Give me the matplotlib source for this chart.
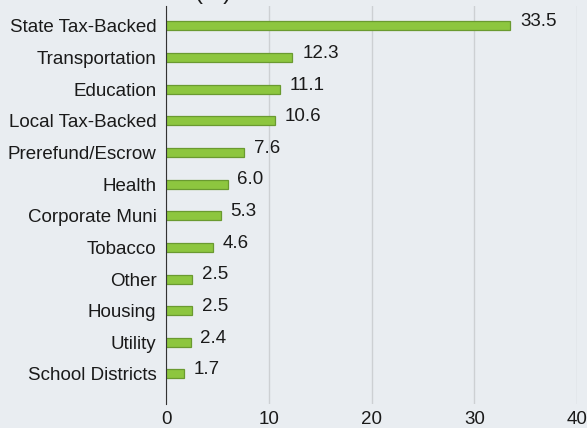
import matplotlib
matplotlib.use("Agg")
import matplotlib.pyplot as plt

# sectors and their share (%)
sectors = ["State Tax-Backed", "Transportation", "Education", "Local Tax-Backed",
           "Prerefund/Escrow", "Health", "Corporate Muni", "Tobacco", "Other",
           "Housing", "Utility", "School Districts"]
shares = [33.5, 12.3, 11.1, 10.6, 7.6, 6.0, 5.3, 4.6, 2.5, 2.5, 2.4, 1.7]
xticks = [0, 10, 20, 30, 40]

plt.rcParams['font.family'] = ['Liberation Sans', 'DejaVu Sans']

bg = "#E9EDF1"
fs = 13.5
txt = "#1A1A1A"
fig = plt.figure(figsize=(5.87, 4.28), dpi=100, facecolor=bg)
ax = fig.add_axes([0.283, 0.056, 0.7, 0.93], facecolor=bg)

pos = list(range(len(sectors)))
ax.barh(pos, shares, height=0.285, color="#8DC63F", edgecolor="#6A9A30", linewidth=0.9, zorder=3)

for p, v in zip(pos, shares):
    ax.annotate(f"{v:.1f}", (v, p), xytext=(7, 3), textcoords="offset points",
                va="center", ha="left", fontsize=fs, color=txt)

ax.set_xlim(0, 40)
ax.set_ylim(11.95, -0.63)
ax.set_xticks(xticks)
ax.set_xticklabels([str(t) for t in xticks], fontsize=fs, color=txt)
ax.set_yticks(pos)
ax.set_yticklabels(sectors, fontsize=fs, color=txt)
ax.tick_params(axis="y", length=0, pad=7)
ax.tick_params(axis="x", length=0, pad=5)
ax.grid(axis="x", color="#CDD0D3", linewidth=1, zorder=0)

for s in ["top", "right", "bottom"]:
    ax.spines[s].set_visible(False)
ax.spines["left"].set_color("#333333")
ax.spines["left"].set_zorder(4)

# title, mostly cut off at the top of the picture (as in the source)
fig.text(0.363, 0.99, "(%)", fontsize=17, color=txt, ha="center", va="bottom")

fig.savefig("out.png", dpi=100, facecolor=bg)
